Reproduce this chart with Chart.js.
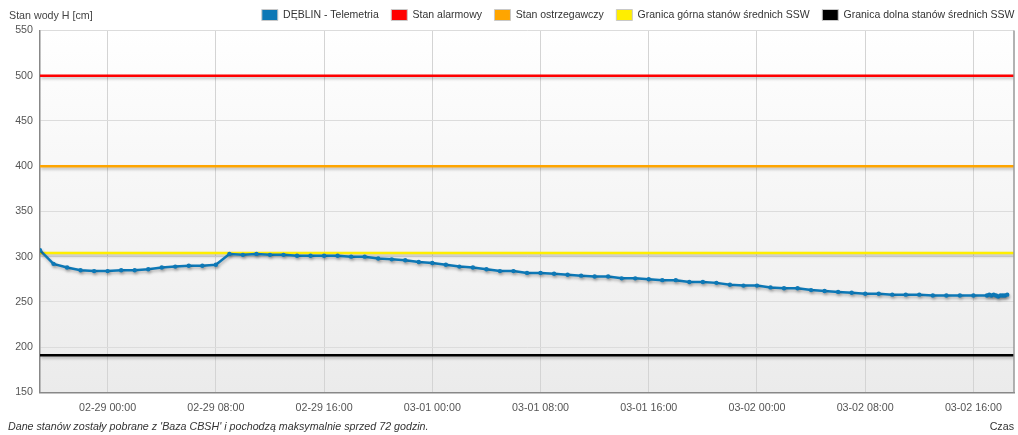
<!DOCTYPE html>
<html>
<head>
<meta charset="utf-8">
<style>
  html, body { margin: 0; padding: 0; background: #fff; }
  #wrap { position: relative; width: 1018px; height: 435px; font-family: "Liberation Sans", Arial, sans-serif; }
  #yTitle { position: absolute; left: 9px; top: 9px; font-size: 10.7px; color: #444; }
  #note { position: absolute; left: 8px; top: 420px; font-size: 10.7px; font-style: italic; color: #333; }
</style>
</head>
<body>
<div id="wrap">
  <canvas id="levelChart" width="1018" height="435"></canvas>
  <div id="yTitle">Stan wody H [cm]</div>
  <div id="note">Dane stanów zostały pobrane z 'Baza CBSH' i pochodzą maksymalnie sprzed 72 godzin.</div>
</div>
<script src="https://cdn.jsdelivr.net/npm/chart.js@4.4.1/dist/chart.umd.min.js"></script>
<script>
// hours since 02-28 19:00
var hours = [0, 1, 2, 3, 4, 5, 6, 7, 8, 9, 10, 11, 12, 13, 14, 15, 16, 17, 18, 19, 20, 21, 22, 23, 24,
  25, 26, 27, 28, 29, 30, 31, 32, 33, 34, 35, 36, 37, 38, 39, 40, 41, 42, 43, 44, 45, 46, 47, 48,
  49, 50, 51, 52, 53, 54, 55, 56, 57, 58, 59, 60, 61, 62, 63, 64, 65, 66, 67, 68, 69,
  70, 70.17, 70.33, 70.5, 70.67, 70.83, 71, 71.17, 71.33, 71.5];
var levels = [307, 292, 288, 285, 284, 284, 285, 285, 286, 288, 289, 290, 290, 291, 303, 302, 303, 302, 302, 301, 301, 301, 301, 300, 300,
  298, 297, 296, 294, 293, 291, 289, 288, 286, 284, 284, 282, 282, 281, 280, 279, 278, 278, 276, 276, 275, 274, 274, 272,
  272, 271, 269, 268, 268, 266, 265, 265, 263, 262, 261, 260, 259, 259, 258, 258, 258, 257, 257, 257, 257,
  257, 258, 257, 258, 257, 256, 257, 257, 257, 258];

var alarmLevel = 500;
var warningLevel = 400;
var sswUpper = 304;
var sswLower = 191;

var tickHours = [5, 13, 21, 29, 37, 45, 53, 61, 69];
var tickLabels = ['02-29 00:00', '02-29 08:00', '02-29 16:00', '03-01 00:00', '03-01 08:00',
  '03-01 16:00', '03-02 00:00', '03-02 08:00', '03-02 16:00'];
var yTicks = [150, 200, 250, 300, 350, 400, 450, 500, 550];

var seriesPoints = hours.map(function (h, i) { return { x: h, y: levels[i] }; });
function flat(v) { return [{ x: 0, y: v }, { x: 72, y: v }]; }

Chart.defaults.font.family = '"Liberation Sans", Arial, sans-serif';
Chart.defaults.font.size = 10.7;
Chart.defaults.color = '#555';

var plotBackground = {
  id: 'plotBackground',
  beforeDraw: function (chart) {
    var a = chart.chartArea, ctx = chart.ctx;
    var g = ctx.createLinearGradient(0, a.top, 0, a.bottom);
    g.addColorStop(0, '#ffffff');
    g.addColorStop(1, '#ebebeb');
    ctx.save();
    ctx.fillStyle = g;
    ctx.fillRect(a.left, a.top, a.right - a.left, a.bottom - a.top);
    ctx.restore();
  },
  beforeDatasetsDraw: function (chart) {
    var ctx = chart.ctx;
    ctx.save();
    ctx.shadowColor = 'rgba(0,0,0,0.25)';
    ctx.shadowBlur = 3;
    ctx.shadowOffsetX = 1;
    ctx.shadowOffsetY = 2;
  },
  afterDatasetsDraw: function (chart) {
    chart.ctx.restore();
  },
  afterDraw: function (chart) {
    var a = chart.chartArea, ctx = chart.ctx;
    ctx.save();
    ctx.strokeStyle = '#999';
    ctx.lineWidth = 1.5;
    ctx.beginPath();
    ctx.moveTo(a.right, a.top);
    ctx.lineTo(a.right, a.bottom);
    ctx.stroke();
    ctx.restore();
  },
  afterLayout: function (chart) {
    chart.legend.right += 12;
  }
};

function level(label, color, v) {
  return {
    label: label, data: flat(v), borderColor: color, backgroundColor: color,
    borderWidth: 2.5, pointRadius: 0, pointHoverRadius: 0
  };
}

new Chart(document.getElementById('levelChart'), {
  type: 'line',
  data: {
    datasets: [{
      label: 'DĘBLIN - Telemetria',
      data: seriesPoints,
      borderColor: '#0d78b6',
      backgroundColor: '#0d78b6',
      borderWidth: 2.5,
      pointRadius: 2.2,
      pointBorderWidth: 0,
      tension: 0
    },
    level('Stan alarmowy', '#ff0000', alarmLevel),
    level('Stan ostrzegawczy', '#ffa500', warningLevel),
    level('Granica górna stanów średnich SSW', '#ffee00', sswUpper),
    level('Granica dolna stanów średnich SSW', '#000000', sswLower)]
  },
  plugins: [plotBackground],
  options: {
    responsive: false,
    animation: false,
    layout: { padding: { top: -3, right: 3, left: 0, bottom: 0 } },
    plugins: {
      tooltip: { enabled: false },
      legend: {
        position: 'top',
        align: 'end',
        labels: {
          color: '#333',
          font: { size: 10.5 },
          boxWidth: 16,
          boxHeight: 11,
          padding: 12.5,
          generateLabels: function (chart) {
            return chart.data.datasets.map(function (ds, i) {
              return {
                text: ds.label, fillStyle: ds.borderColor, strokeStyle: '#c8c8c8',
                lineWidth: 1, datasetIndex: i, hidden: false, fontColor: '#333'
              };
            });
          }
        }
      }
    },
    scales: {
      x: {
        type: 'linear',
        min: 0,
        max: 72,
        afterBuildTicks: function (scale) {
          scale.ticks = tickHours.map(function (v) { return { value: v }; });
        },
        ticks: {
          autoSkip: false,
          maxRotation: 0,
          padding: 9,
          color: '#555',
          callback: function (v) { return tickLabels[tickHours.indexOf(v)]; }
        },
        grid: { color: '#d4d4d4', drawTicks: false },
        border: { color: '#888', width: 1.5 },
        title: { display: true, text: 'Czas', align: 'end', color: '#333', padding: { top: -3, bottom: 2 } }
      },
      y: {
        min: 150,
        max: 550,
        afterBuildTicks: function (scale) {
          scale.ticks = yTicks.map(function (v) { return { value: v }; });
        },
        afterFit: function (scale) { scale.width = 40; },
        ticks: { padding: 7, color: '#555' },
        grid: { color: '#dcdcdc', drawTicks: false },
        border: { color: '#888', width: 1.5 }
      }
    }
  }
});
</script>
</body>
</html>
